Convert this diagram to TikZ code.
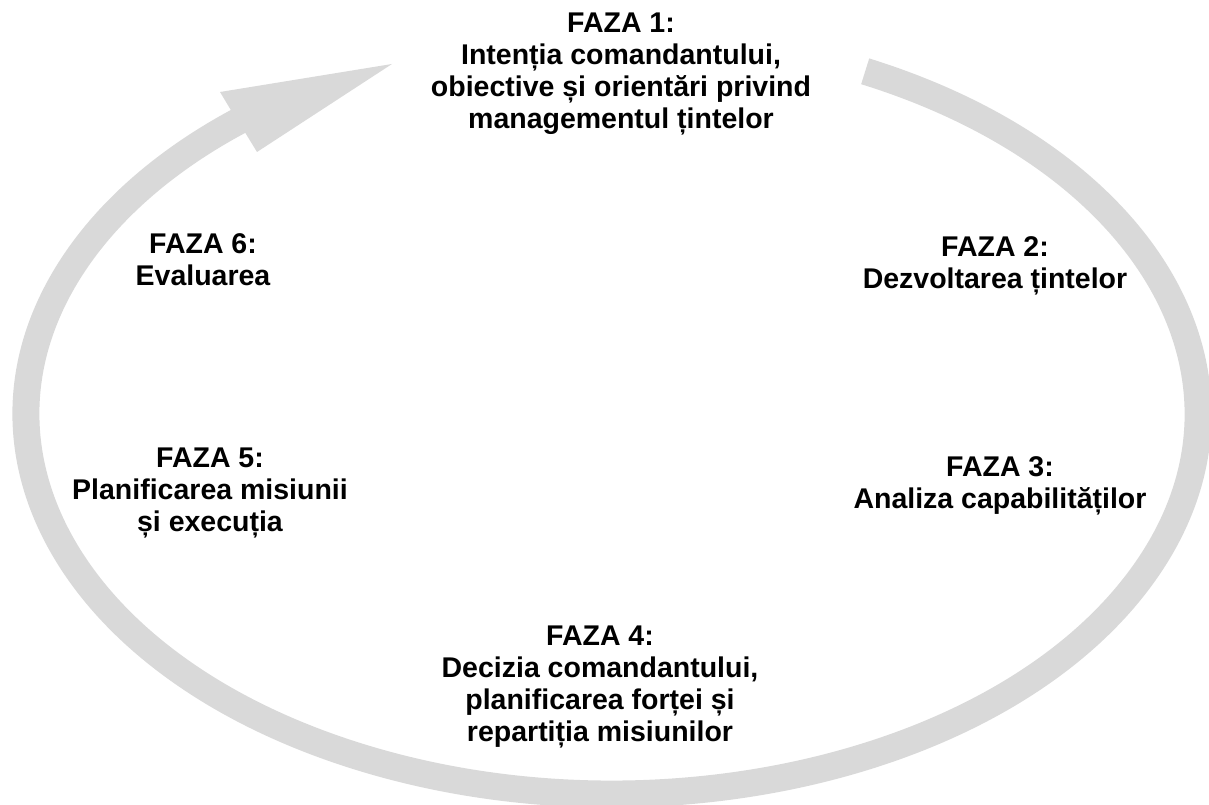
\documentclass[tikz,border=0pt]{standalone}
\usepackage{fontspec}
\setmainfont{Liberation Sans}
\definecolor{band}{RGB}{217,217,217}
\begin{document}
\begin{tikzpicture}[x=1pt,y=1pt,
  phase/.style={font=\bfseries\fontsize{28.5}{32}\selectfont, align=center, inner sep=0pt},
  cyclearc/.style={draw=band, line width=27pt},
  arrowhead/.style={fill=band}]
\useasboundingbox (0,0) rectangle (1209,805);
\begin{scope}
\clip (0,0) rectangle (1209,805);
\coordinate (c) at (612,391);
\draw[cyclearc] (c) ++(64.4:586 and 380) arc[start angle=64.4, end angle=-232, x radius=586, y radius=380];
\fill[arrowhead] (232,693) -- (220,713) -- (392,741) -- (257,653) -- (246,671) -- cycle;
\end{scope}
\node[phase] (p1) at (621,731) {FAZA 1:\\Intenția comandantului,\\obiective și orientări privind\\managementul țintelor};
\node[phase] (p2) at (995,539) {FAZA 2:\\Dezvoltarea țintelor};
\node[phase] (p3) at (1000,319) {FAZA 3:\\Analiza capabilităților};
\node[phase] (p4) at (600,118) {FAZA 4:\\Decizia comandantului,\\planificarea forței și\\repartiția misiunilor};
\node[phase] (p5) at (210,312) {FAZA 5:\\Planificarea misiunii\\și execuția};
\node[phase] (p6) at (203,545) {FAZA 6:\\Evaluarea};
\end{tikzpicture}
\end{document}
